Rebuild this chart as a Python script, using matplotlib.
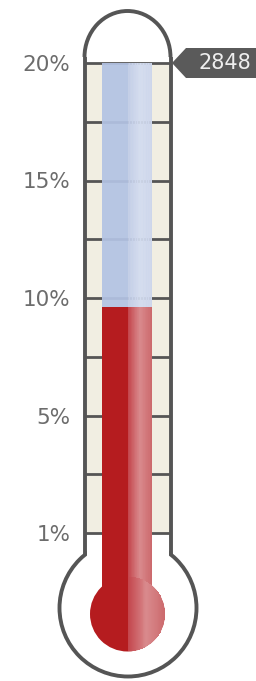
import matplotlib.pyplot as plt
import numpy as np
from matplotlib.patches import Rectangle, Ellipse, Arc, Polygon
from matplotlib.colors import LinearSegmentedColormap

# chart data
value = 9.6
scale_max = 20
tick_values = [0, 5, 10, 15, 20]
tick_labels = ['1%', '5%', '10%', '15%', '20%']
grid_step = 2.5
tag_text = '2848'

W, H = 256, 681
TOP, BOTTOM = 63, 533          # pixel rows of the scale ends
LEFT, RIGHT = 86.5, 168.5      # inner edges of the tube
PX = (BOTTOM - TOP) / scale_max

def yd(py):
    return (BOTTOM - py) / PX

WALL = '#555555'
CREAM = '#f1eee2'
RED = '#b51c1f'
BLUE = '#b3c3e4'

fig = plt.figure(figsize=(W / 100, H / 100), dpi=100)
ax = fig.add_axes([LEFT / W, (H - BOTTOM) / H, (RIGHT - LEFT) / W, (BOTTOM - TOP) / H])
ax.set_facecolor(CREAM)
for s in ax.spines.values():
    s.set_visible(False)
ax.set_xticks([])
ax.set_yticks(tick_values)
ax.set_yticklabels(tick_labels)
ax.tick_params(axis='y', length=0, pad=11.5, labelsize=15.5, labelcolor='#6c6c6c')

# grid lines across the tube
for g in np.arange(0, scale_max + grid_step / 2, grid_step):
    ax.plot([LEFT, RIGHT], [g, g], color=WALL, lw=2, zorder=2, clip_on=False)

# bulb
cx, cy, r_out = 128, 608, 68.5
ax.add_patch(Ellipse((cx, yd(cy)), 2 * r_out, 2 * r_out / PX, facecolor='white',
                     edgecolor=WALL, lw=2.8, zorder=1, clip_on=False))
ax.add_patch(Rectangle((LEFT, yd(560)), RIGHT - LEFT, yd(BOTTOM) - yd(560),
                       facecolor='white', edgecolor='none', zorder=1.5, clip_on=False))

# walls and dome
wall_top = 57
for x in [84.5, 170.5]:
    ax.plot([x, x], [yd(wall_top), yd(555)], color=WALL, lw=2.8, zorder=3,
            clip_on=False, solid_capstyle='butt')
ax.add_patch(Arc((127.5, yd(wall_top)), 86, 92 / PX, theta1=0, theta2=180,
                 color=WALL, lw=2.8, zorder=3, clip_on=False))

# column: dark left half, shaded right half
c_left, c_mid, c_right = 102, 127.5, 152
r_in, by = 37.5, 614
blue_grad = LinearSegmentedColormap.from_list('b', ['#c0cce7', '#d3dcef', '#cdd6ec'])
red_grad = LinearSegmentedColormap.from_list('r', ['#c3434a', '#d98a8d', '#cc6a6d'])

ax.add_patch(Rectangle((c_left, value), c_mid - c_left, scale_max - value,
                       facecolor=BLUE, edgecolor='none', alpha=0.93, zorder=4))
ax.add_patch(Rectangle((c_left, yd(by)), c_mid - c_left, value - yd(by),
                       facecolor=RED, edgecolor='none', zorder=4, clip_on=False))
ax.add_patch(Ellipse((c_mid, yd(by)), 2 * r_in, 2 * r_in / PX, facecolor=RED,
                     edgecolor='none', zorder=4, clip_on=False))

n = 40
edges = np.linspace(c_mid, c_right, n + 1)
for i in range(n):
    t = i / (n - 1)
    w = edges[i + 1] - edges[i] + 0.2
    ax.add_patch(Rectangle((edges[i], value), w, scale_max - value,
                           facecolor=blue_grad(t), edgecolor='none', alpha=0.93, zorder=4.5))
    ax.add_patch(Rectangle((edges[i], yd(by)), w, value - yd(by),
                           facecolor=red_grad(t), edgecolor='none', zorder=4.5, clip_on=False))

edges = np.linspace(c_mid, c_mid + r_in, n + 1)
for i in range(n):
    t = i / (n - 1)
    dx = (edges[i] + edges[i + 1]) / 2 - c_mid
    half = np.sqrt(max(r_in ** 2 - dx ** 2, 0))
    ax.add_patch(Rectangle((edges[i], yd(by + half)), edges[i + 1] - edges[i] + 0.2,
                           2 * half / PX, facecolor=red_grad(t), edgecolor='none',
                           zorder=4.5, clip_on=False))

# value tag
ty = 63
ax.add_patch(Polygon([(172, yd(ty)), (186, yd(48)), (W + 5, yd(48)), (W + 5, yd(78)),
                      (186, yd(78))], closed=True, facecolor='#5a5a5a',
                     edgecolor='none', zorder=5, clip_on=False))
ax.text(198, yd(ty), tag_text, color='#eeeeee', fontsize=15, va='center', ha='left',
        zorder=6, clip_on=False)

ax.set_xlim(LEFT, RIGHT)
ax.set_ylim(0, scale_max)
fig.savefig('out.png', dpi=100)
